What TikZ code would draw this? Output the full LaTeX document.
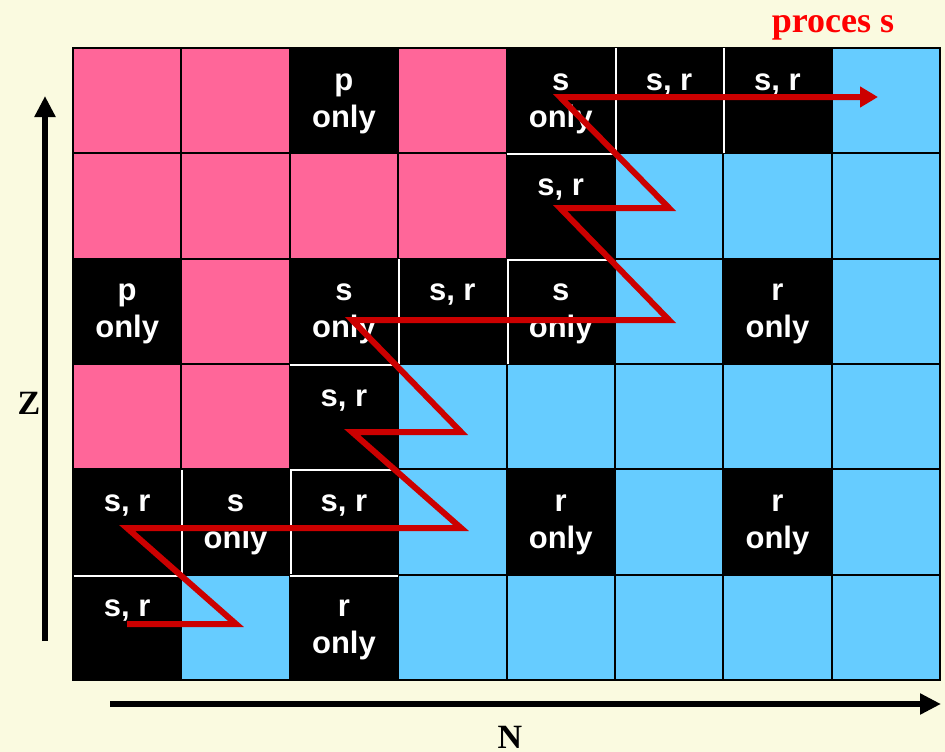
\documentclass[tikz,border=0pt]{standalone}
\usepackage{fontspec}
\setmainfont{Liberation Serif}
\newfontfamily\cellfont{Liberation Sans}
\usetikzlibrary{arrows.meta}
\definecolor{bgc}{HTML}{FAFAE0}
\definecolor{pinkc}{HTML}{FF6699}
\definecolor{cyanc}{HTML}{66CCFF}
\definecolor{pathred}{HTML}{CC0000}
\definecolor{titlered}{HTML}{FF0000}
\tikzset{
  cellbox/.style={rectangle, draw=black, line width=2pt, minimum width=108.375pt, minimum height=105.333pt, inner sep=0pt},
  celltext/.style={font=\cellfont\bfseries\fontsize{31}{37}\selectfont, text=white, align=center, inner sep=0pt},
  whiteline/.style={draw=white, line width=2pt, shorten >=1.5pt, shorten <=1.5pt},
  zigzag/.style={draw=pathred, line width=6pt, -{Triangle[length=18pt,width=20pt]}},
  axisarrow/.style={draw=black, line width=6pt, -{Triangle[length=21pt,width=20pt]}},
  axislabel/.style={font=\bfseries\fontsize{34}{38}\selectfont, text=black, inner sep=0pt}
}
\newcommand\mkcell[3]{\node[cellbox, fill=#3] (c#1#2) at ({73+108.375*(#2+0.5)}, {48+105.333*(#1+0.5)}) {};}
\newcommand\mklcell[4]{\mkcell{#1}{#2}{#3}\node[celltext] (t#1#2) at ([yshift=-3pt]c#1#2.center) {#4};}
\begin{document}
\begin{tikzpicture}[x=1pt, y=-1pt]
\useasboundingbox[fill=bgc] (0,0) rectangle (945,752);
% row 0
\mkcell{0}{0}{pinkc}\mkcell{0}{1}{pinkc}\mklcell{0}{2}{black}{p\\only}\mkcell{0}{3}{pinkc}
\mklcell{0}{4}{black}{s\\only}\mklcell{0}{5}{black}{s, r\\\phantom{only}}\mklcell{0}{6}{black}{s, r\\\phantom{only}}\mkcell{0}{7}{cyanc}
% row 1
\mkcell{1}{0}{pinkc}\mkcell{1}{1}{pinkc}\mkcell{1}{2}{pinkc}\mkcell{1}{3}{pinkc}
\mklcell{1}{4}{black}{s, r\\\phantom{only}}\mkcell{1}{5}{cyanc}\mkcell{1}{6}{cyanc}\mkcell{1}{7}{cyanc}
% row 2
\mklcell{2}{0}{black}{p\\only}\mkcell{2}{1}{pinkc}\mklcell{2}{2}{black}{s\\only}\mklcell{2}{3}{black}{s, r\\\phantom{only}}
\mklcell{2}{4}{black}{s\\only}\mkcell{2}{5}{cyanc}\mklcell{2}{6}{black}{r\\only}\mkcell{2}{7}{cyanc}
% row 3
\mkcell{3}{0}{pinkc}\mkcell{3}{1}{pinkc}\mklcell{3}{2}{black}{s, r\\\phantom{only}}\mkcell{3}{3}{cyanc}
\mkcell{3}{4}{cyanc}\mkcell{3}{5}{cyanc}\mkcell{3}{6}{cyanc}\mkcell{3}{7}{cyanc}
% row 4
\mklcell{4}{0}{black}{s, r\\\phantom{only}}\mklcell{4}{1}{black}{s\\only}\mklcell{4}{2}{black}{s, r\\\phantom{only}}\mkcell{4}{3}{cyanc}
\mklcell{4}{4}{black}{r\\only}\mkcell{4}{5}{cyanc}\mklcell{4}{6}{black}{r\\only}\mkcell{4}{7}{cyanc}
% row 5
\mklcell{5}{0}{black}{s, r\\\phantom{only}}\mkcell{5}{1}{cyanc}\mklcell{5}{2}{black}{r\\only}\mkcell{5}{3}{cyanc}
\mkcell{5}{4}{cyanc}\mkcell{5}{5}{cyanc}\mkcell{5}{6}{cyanc}\mkcell{5}{7}{cyanc}
% white separators between adjacent black cells
\draw[whiteline] (c04.north east) -- (c04.south east);
\draw[whiteline] (c05.north east) -- (c05.south east);
\draw[whiteline] (c04.south west) -- (c04.south east);
\draw[whiteline] (c14.south west) -- (c14.south east);
\draw[whiteline] (c22.north east) -- (c22.south east);
\draw[whiteline] (c23.north east) -- (c23.south east);
\draw[whiteline] (c22.south west) -- (c22.south east);
\draw[whiteline] (c32.south west) -- (c32.south east);
\draw[whiteline] (c40.north east) -- (c40.south east);
\draw[whiteline] (c41.north east) -- (c41.south east);
\draw[whiteline] (c42.south west) -- (c42.south east);
\draw[whiteline] (c40.south west) -- (c40.south east);
% zigzag path of process s
\coordinate (z1) at (127,624);
\coordinate (z2) at (236,624);
\coordinate (z3) at (127,528);
\coordinate (z4) at (461,528);
\coordinate (z5) at (352,432);
\coordinate (z6) at (461,432);
\coordinate (z7) at (352,320);
\coordinate (z8) at (669,320);
\coordinate (z9) at (560,208);
\coordinate (z10) at (669,208);
\coordinate (z11) at (560,97);
\coordinate (z12) at (878,97);
\draw[zigzag] (z1) -- (z2) -- (z3) -- (z4) -- (z5) -- (z6) -- (z7) -- (z8) -- (z9) -- (z10) -- (z11) -- (z12);
% axes
\coordinate (zbot) at (45,641);
\coordinate (ztop) at (45,96);
\coordinate (nleft) at (110,704);
\coordinate (nright) at (941,704);
\draw[axisarrow] (zbot) -- (ztop);
\draw[axisarrow] (nleft) -- (nright);
\node[axislabel] (zlab) at (29,403) {Z};
\node[axislabel, anchor=base] (nlab) at (510,748) {N};
\node[font=\bfseries\fontsize{36}{40}\selectfont, text=titlered, anchor=base, inner sep=0pt] (title) at (833,33) {proces s};
\end{tikzpicture}
\end{document}
